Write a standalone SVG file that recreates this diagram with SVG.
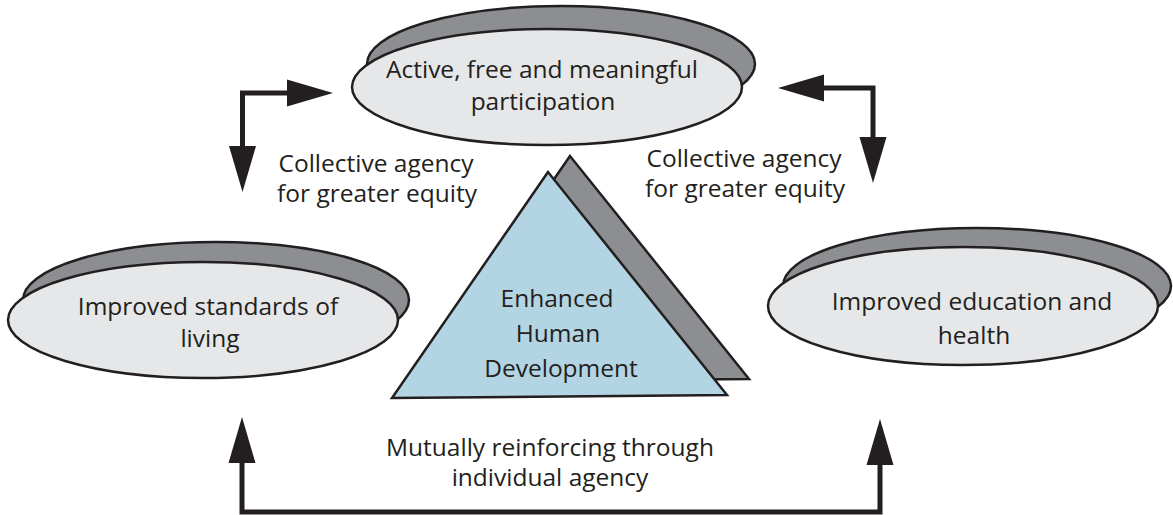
<svg xmlns="http://www.w3.org/2000/svg" width="1173" height="515" viewBox="0 0 1173 515">
<style>
.back{fill:#8c8e91;stroke:#231f20;stroke-width:2.5}
.front{fill:#e6e7e8;stroke:#231f20;stroke-width:2.5}
.tri{fill:#b3d4e3;stroke:#231f20;stroke-width:2.5}
.lbl{font-family:"Open Sans","Liberation Sans",sans-serif;font-size:24.5px;fill:#231f20;text-anchor:middle}
.conn{fill:none;stroke:#231f20;stroke-width:5;stroke-linejoin:miter}
</style>
<defs>
<marker id="ah" viewBox="0 -14 46 28" refX="1" refY="0" markerWidth="46" markerHeight="28" markerUnits="userSpaceOnUse" orient="auto-start-reverse">
<path d="M0,-13.5 L46,0 L0,13.5 Z" fill="#231f20"/>
</marker>
</defs>
<rect width="1173" height="515" fill="#ffffff"/>
<g id="participation">
<ellipse class="back" cx="561" cy="64" rx="194" ry="58"/>
<ellipse class="front" cx="547" cy="87" rx="195" ry="58"/>
<text class="lbl" x="542" y="78">Active, free and meaningful</text>
<text class="lbl" x="543" y="110">participation</text>
</g>
<g id="living">
<ellipse class="back" cx="216" cy="300" rx="193" ry="58"/>
<ellipse class="front" cx="203" cy="320" rx="195" ry="58"/>
<text class="lbl" x="208" y="315">Improved standards of</text>
<text class="lbl" x="210" y="347">living</text>
</g>
<g id="education">
<ellipse class="back" cx="977" cy="286" rx="194" ry="58"/>
<ellipse class="front" cx="963" cy="306" rx="195" ry="59"/>
<text class="lbl" x="972" y="310">Improved education and</text>
<text class="lbl" x="974" y="344">health</text>
</g>
<g id="development">
<polygon class="back" points="570,156 414,382 749,379"/>
<polygon class="tri" points="548,172 392,398 727,395"/>
<text class="lbl" x="557" y="307">Enhanced</text>
<text class="lbl" x="558" y="342">Human</text>
<text class="lbl" x="561" y="377">Development</text>
</g>
<g id="connectors">
<path class="conn" d="M242.5,147 L242.5,93 L288,93" marker-start="url(#ah)" marker-end="url(#ah)"/>
<path class="conn" d="M823,88 L873,88 L873,138" marker-start="url(#ah)" marker-end="url(#ah)"/>
<path class="conn" d="M242,462 L242,512 L880,512 L880,464" marker-start="url(#ah)" marker-end="url(#ah)"/>
<text class="lbl" x="376" y="172">Collective agency</text>
<text class="lbl" x="377" y="202">for greater equity</text>
<text class="lbl" x="744" y="167">Collective agency</text>
<text class="lbl" x="745" y="197">for greater equity</text>
<text class="lbl" x="550" y="456">Mutually reinforcing through</text>
<text class="lbl" x="550" y="486">individual agency</text>
</g>
</svg>
